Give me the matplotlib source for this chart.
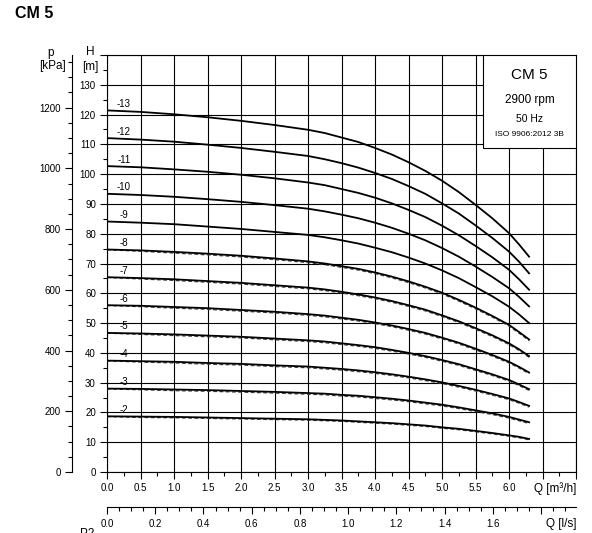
#
# CM 5 ポンプ性能曲線
#
import matplotlib
matplotlib.use('Agg')
import matplotlib.pyplot as plt
from matplotlib.patches import Rectangle

matplotlib.rc('font', **{'family': ['Liberation Sans', 'DejaVu Sans']})

#
# 流量 Q [m3/h]
#
q = [0.0, 0.5, 1.0, 1.5, 2.0, 2.5, 3.0, 3.25, 3.5, 3.75, 4.0, 4.25, 4.5,
     4.75, 5.0, 5.25, 5.5, 5.75, 6.0, 6.15, 6.3]
#
# 揚程 H [m] (solid)
#
h13 = [121.4, 120.9, 120.1, 119.1, 117.9, 116.5, 114.9, 113.8, 112.3, 110.8, 108.8,
       106.6, 104.0, 101.1, 97.8, 94.0, 89.7, 85.2, 80.2, 76.4, 72.3]
h12 = [112.1, 111.6, 110.9, 109.9, 108.8, 107.5, 106.1, 105.0, 103.7, 102.2, 100.4,
       98.4, 96.0, 93.4, 90.2, 86.8, 82.8, 78.6, 74.0, 70.6, 66.7]
h11 = [102.7, 102.3, 101.6, 100.8, 99.8, 98.6, 97.2, 96.3, 95.0, 93.7, 92.1,
       90.2, 88.0, 85.6, 82.7, 79.5, 75.9, 72.1, 67.9, 64.7, 61.2]
h10 = [93.4, 93.0, 92.4, 91.6, 90.7, 89.6, 88.4, 87.5, 86.4, 85.2, 83.7,
       82.0, 80.0, 77.8, 75.2, 72.3, 69.0, 65.5, 61.7, 58.8, 55.6]
h9 = [84.1, 83.7, 83.2, 82.4, 81.6, 80.6, 79.6, 78.8, 77.8, 76.7, 75.3,
      73.8, 72.0, 70.0, 67.7, 65.1, 62.1, 59.0, 55.5, 52.9, 50.0]
h8 = [74.7, 74.4, 73.9, 73.3, 72.6, 71.7, 70.7, 70.0, 69.1, 68.2, 67.0,
      65.6, 64.0, 62.2, 60.2, 57.8, 55.2, 52.4, 49.4, 47.0, 44.5]
h7 = [65.4, 65.1, 64.7, 64.1, 63.5, 62.7, 61.9, 61.3, 60.5, 59.6, 58.6,
      57.4, 56.0, 54.5, 52.6, 50.6, 48.3, 45.9, 43.2, 41.2, 38.9]
h6 = [56.0, 55.8, 55.4, 55.0, 54.4, 53.8, 53.0, 52.5, 51.8, 51.1, 50.2,
      49.2, 48.0, 46.7, 45.1, 43.4, 41.4, 39.3, 37.0, 35.3, 33.4]
h5 = [46.7, 46.5, 46.2, 45.8, 45.4, 44.8, 44.2, 43.8, 43.2, 42.6, 41.9,
      41.0, 40.0, 38.9, 37.6, 36.2, 34.5, 32.8, 30.9, 29.4, 27.8]
h4 = [37.4, 37.2, 37.0, 36.6, 36.3, 35.8, 35.4, 35.0, 34.6, 34.1, 33.5,
      32.8, 32.0, 31.1, 30.1, 28.9, 27.6, 26.2, 24.7, 23.5, 22.2]
h3 = [28.0, 27.9, 27.7, 27.5, 27.2, 26.9, 26.5, 26.3, 25.9, 25.6, 25.1,
      24.6, 24.0, 23.3, 22.6, 21.7, 20.7, 19.7, 18.5, 17.6, 16.7]
h2 = [18.7, 18.6, 18.5, 18.3, 18.1, 17.9, 17.7, 17.5, 17.3, 17.0, 16.7,
      16.4, 16.0, 15.6, 15.0, 14.5, 13.8, 13.1, 12.3, 11.8, 11.1]
#
# 揚程 H [m] (dashed, stages 2-8)
#
d8 = [74.6, 74.1, 73.5, 72.9, 72.2, 71.3, 70.3, 69.6, 68.7, 67.8, 66.6,
      65.2, 63.6, 61.8, 59.8, 57.4, 54.8, 52.0, 49.0, 46.6, 44.1]
d7 = [65.3, 64.8, 64.3, 63.7, 63.1, 62.3, 61.5, 60.9, 60.1, 59.2, 58.2,
      57.0, 55.6, 54.1, 52.2, 50.2, 47.9, 45.5, 42.8, 40.8, 38.5]
d6 = [55.9, 55.5, 55.0, 54.6, 54.0, 53.4, 52.6, 52.1, 51.4, 50.7, 49.8,
      48.8, 47.6, 46.3, 44.7, 43.0, 41.0, 38.9, 36.6, 34.9, 33.0]
d5 = [46.6, 46.2, 45.8, 45.4, 45.0, 44.4, 43.8, 43.4, 42.8, 42.2, 41.5,
      40.6, 39.6, 38.5, 37.2, 35.8, 34.1, 32.4, 30.5, 29.0, 27.4]
d4 = [37.3, 36.9, 36.6, 36.2, 35.9, 35.4, 35.0, 34.6, 34.2, 33.7, 33.1,
      32.4, 31.6, 30.7, 29.7, 28.5, 27.2, 25.8, 24.3, 23.1, 21.8]
d3 = [27.9, 27.6, 27.3, 27.1, 26.8, 26.5, 26.1, 25.9, 25.5, 25.2, 24.7,
      24.2, 23.6, 22.9, 22.2, 21.3, 20.3, 19.3, 18.1, 17.2, 16.3]
d2 = [18.6, 18.3, 18.2, 18.0, 17.8, 17.6, 17.4, 17.2, 17.0, 16.7, 16.4,
      16.1, 15.7, 15.3, 14.7, 14.2, 13.5, 12.8, 12.0, 11.5, 10.8]

solid = {13: h13, 12: h12, 11: h11, 10: h10, 9: h9, 8: h8, 7: h7,
         6: h6, 5: h5, 4: h4, 3: h3, 2: h2}
dashed = {8: d8, 7: d7, 6: d6, 5: d5, 4: d4, 3: d3, 2: d2}

#
# 目盛
#
q_ticks = [0.0, 0.5, 1.0, 1.5, 2.0, 2.5, 3.0, 3.5, 4.0, 4.5, 5.0, 5.5, 6.0, 6.5, 7.0]
q_labels = ['0.0', '0.5', '1.0', '1.5', '2.0', '2.5', '3.0', '3.5', '4.0', '4.5',
            '5.0', '5.5', '6.0', '', '']
h_ticks = [0, 10, 20, 30, 40, 50, 60, 70, 80, 90, 100, 110, 120, 130, 140]
h_labels = ['0', '10', '20', '30', '40', '50', '60', '70', '80', '90', '100',
            '110', '120', '130', '']
p_ticks = [0, 200, 400, 600, 800, 1000, 1200]
ls_ticks = [0.0, 0.2, 0.4, 0.6, 0.8, 1.0, 1.2, 1.4, 1.6, 1.8]
ls_labels = ['0.0', '0.2', '0.4', '0.6', '0.8', '1.0', '1.2', '1.4', '1.6', '']

W, H = 592, 533
fig = plt.figure(figsize=(W / 100, H / 100), dpi=100)

# 画素 -> 図座標
def fx(px):
    return px / W

def fy(py):
    return 1 - py / H

ax_l, ax_r, ax_t, ax_b = 107, 576, 55, 472
ax = fig.add_axes([fx(ax_l), fy(ax_b), (ax_r - ax_l) / W, (ax_b - ax_t) / H])
ax.set_xlim(0, 7.0)
ax.set_ylim(0, 140)

ax.set_xticks(q_ticks)
ax.set_xticklabels(q_labels, fontsize=7)
ax.set_xticks([x + 0.25 for x in q_ticks[:-1]], minor=True)
ax.set_yticks(h_ticks)
ax.set_yticklabels(h_labels, fontsize=7)
ax.set_yticks([y + 5 for y in h_ticks[:-1]], minor=True)
ax.tick_params(which='major', direction='out', length=5, width=0.8, pad=3)
ax.tick_params(which='minor', direction='out', length=3, width=0.8)
ax.grid(True, which='major', color='black', linewidth=0.8)
for s in ax.spines.values():
    s.set_linewidth(0.8)

#
# 曲線
#
for n, hv in dashed.items():
    ax.plot(q, hv, color='#444444', linewidth=0.9, linestyle=(0, (3, 2)), zorder=3)
for n, hv in solid.items():
    ax.plot(q, hv, color='black', linewidth=1.3, zorder=4)
    ax.text(0.25, hv[0] + 2.2, '-' + str(n), fontsize=7, ha='center', va='center', zorder=5)

#
# 右上の枠
#
bx0 = (483 - ax_l) / (ax_r - ax_l)
by0 = (ax_b - 148) / (ax_b - ax_t)
ax.add_patch(Rectangle((bx0, by0), 1 - bx0, 1 - by0, transform=ax.transAxes,
                       facecolor='white', edgecolor='black', linewidth=0.8, zorder=6))
cx = (bx0 + 1) / 2
ax.text(cx, (ax_b - 75) / (ax_b - ax_t), 'CM 5', transform=ax.transAxes,
        fontsize=11, ha='center', va='center', zorder=7)
ax.text(cx, (ax_b - 100) / (ax_b - ax_t), '2900 rpm', transform=ax.transAxes,
        fontsize=8.5, ha='center', va='center', zorder=7)
ax.text(cx, (ax_b - 119) / (ax_b - ax_t), '50 Hz', transform=ax.transAxes,
        fontsize=7.5, ha='center', va='center', zorder=7)
ax.text(cx, (ax_b - 134) / (ax_b - ax_t), 'ISO 9906:2012 3B', transform=ax.transAxes,
        fontsize=6, ha='center', va='center', zorder=7)

#
# p [kPa] の軸
#
pax = ax.secondary_yaxis((72 - ax_l) / (ax_r - ax_l),
                         functions=(lambda h: h * 9.81, lambda p: p / 9.81))
pax.set_yticks(p_ticks)
pax.set_yticklabels([str(p) for p in p_ticks], fontsize=7)
pax.set_yticks(list(range(50, 1400, 50)), minor=True)
pax.tick_params(which='major', direction='out', length=5, width=0.8, pad=3)
pax.tick_params(which='minor', direction='out', length=3, width=0.8)
pax.spines['left'].set_linewidth(0.8)

#
# Q [l/s] の軸
#
qax = ax.secondary_xaxis(-(506.7 - ax_b) / (ax_b - ax_t),
                         functions=(lambda x: x / 3.6, lambda x: x * 3.6))
qax.set_xticks(ls_ticks)
qax.set_xticklabels(ls_labels, fontsize=7)
qax.set_xticks([i * 0.05 for i in range(0, 39)], minor=True)
qax.tick_params(which='major', direction='out', length=5, width=0.8, pad=4)
qax.tick_params(which='minor', direction='out', length=3, width=0.8)
qax.spines['bottom'].set_linewidth(0.8)

#
# ラベル類
#
fig.text(fx(15), fy(13), 'CM 5', fontsize=11.5, fontweight='bold', ha='left', va='center')
fig.text(fx(51), fy(53), 'p', fontsize=8.5, ha='center', va='center')
fig.text(fx(52), fy(66), '[kPa]', fontsize=8.5, ha='center', va='center')
fig.text(fx(90), fy(52), 'H', fontsize=8.5, ha='center', va='center')
fig.text(fx(90), fy(67), '[m]', fontsize=8.5, ha='center', va='center')
fig.text(fx(576), fy(489), 'Q [m³/h]', fontsize=8.5, ha='right', va='center')
fig.text(fx(576), fy(524), 'Q [l/s]', fontsize=8.5, ha='right', va='center')
fig.text(fx(80), fy(528), 'P2', fontsize=8.5, ha='left', va='top')

fig.savefig('out.png', dpi=100)
